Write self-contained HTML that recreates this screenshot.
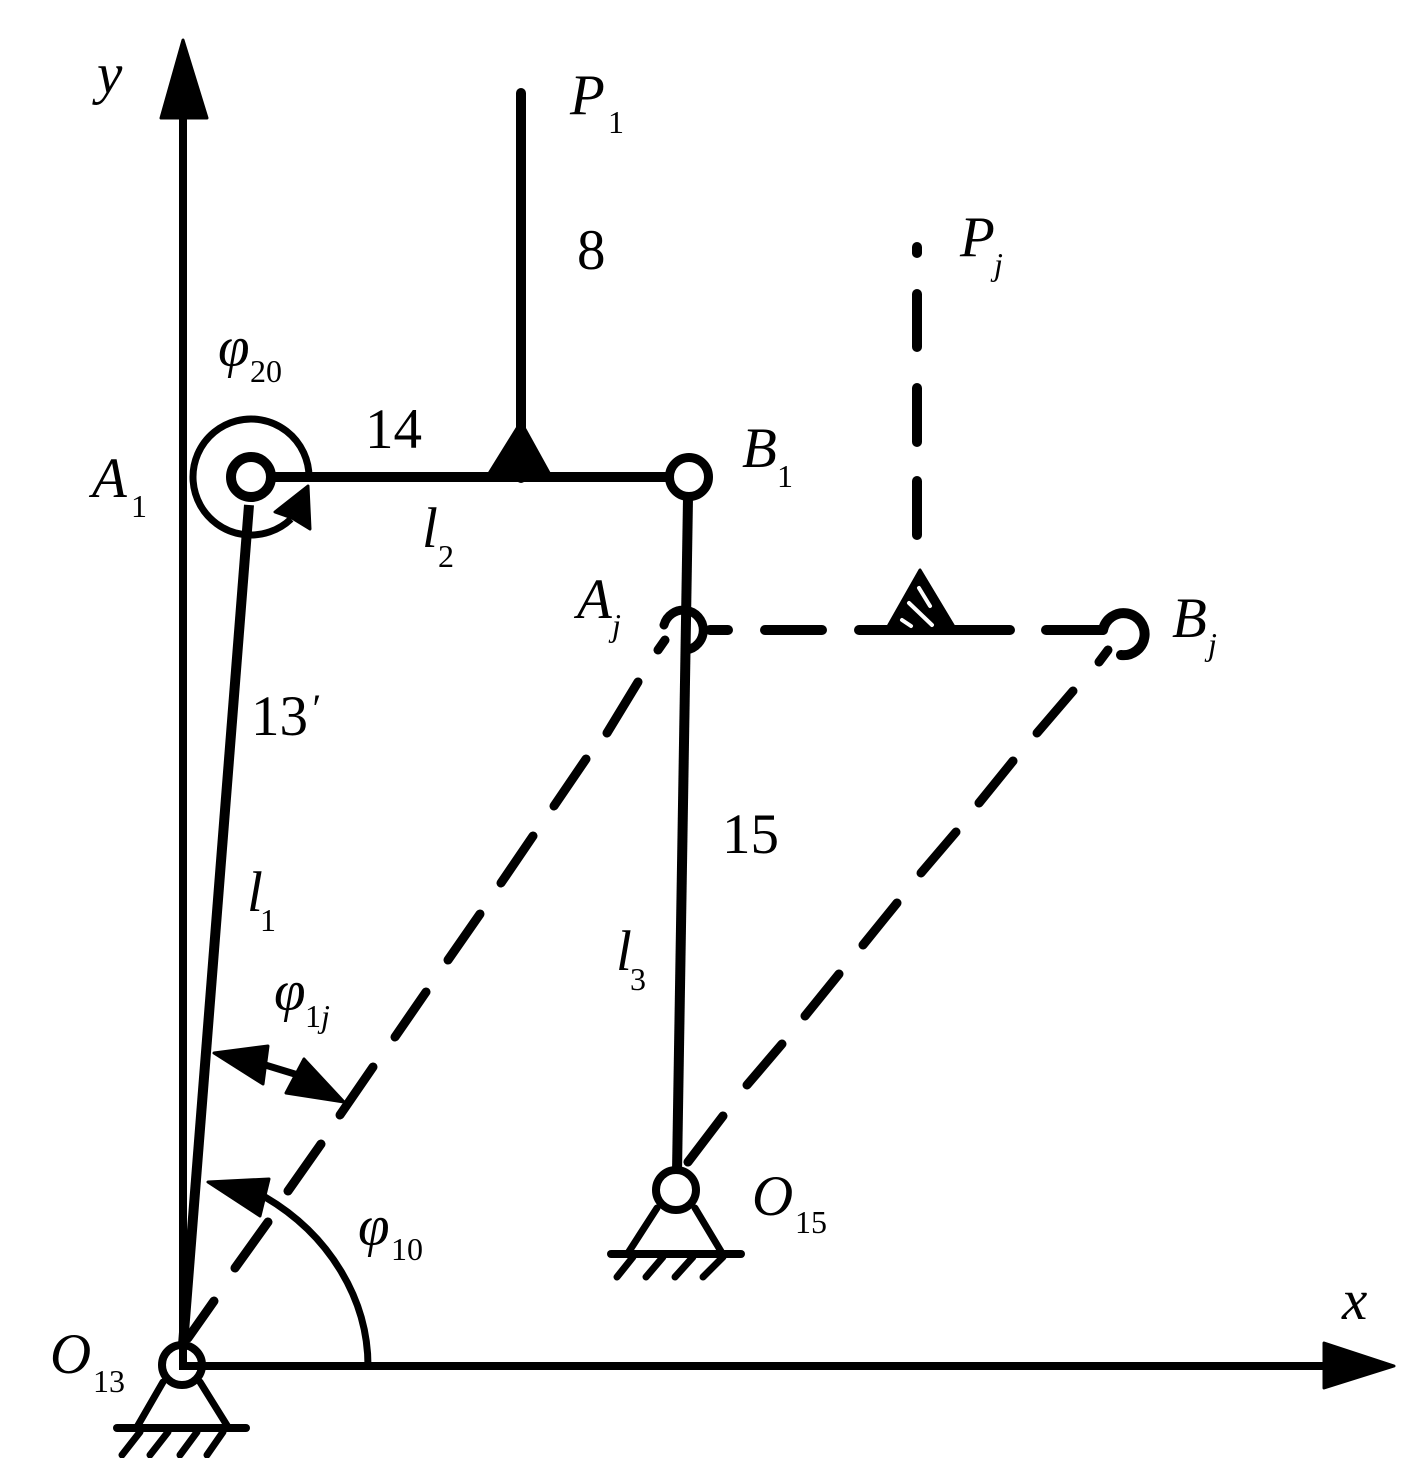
<!DOCTYPE html>
<html><head><meta charset="utf-8"><style>
html,body{margin:0;padding:0;background:#fff}
svg{display:block}
text{font-family:"Liberation Serif",serif;font-size:57px;fill:#000}
.i{font-style:italic}
.s{font-size:32px}
</style></head><body>
<svg width="1417" height="1458" viewBox="0 0 1417 1458" xmlns="http://www.w3.org/2000/svg">
<rect width="1417" height="1458" fill="#fff"/>
<g fill="none" stroke="#000" stroke-linecap="round">
<!-- axes -->
<path d="M183 1366V110" stroke-width="8" stroke-linecap="butt"/>
<path d="M183 1366H1330" stroke-width="8" stroke-linecap="butt"/>
<!-- link 8 and 14 -->
<path d="M521 93V478" stroke-width="10"/>
<path d="M270 477H670" stroke-width="10" stroke-linecap="butt"/>
<!-- l1 and l3 -->
<path d="M249 505L183 1345" stroke-width="10" stroke-linecap="butt"/>
<path d="M688 498L677 1172" stroke-width="10" stroke-linecap="butt"/>
<!-- angle arcs -->
<path d="M309 477A58 58 0 1 0 291 519" stroke-width="7" stroke-linecap="butt"/>
<path d="M368 1366C368 1300 330 1235 265 1197" stroke-width="7" stroke-linecap="butt"/>
<path d="M262 1064L298 1075" stroke-width="7"/>
<!-- dashed O13-Aj -->
<g stroke-width="9">
<path d="M188 1338L214 1301"/><path d="M235 1268L268 1222"/><path d="M288 1191L321 1144"/><path d="M340 1115L373 1067"/>
<path d="M395 1037L426 992"/><path d="M448 960L480 914"/><path d="M501 883L533 836"/><path d="M554 806L586 759"/><path d="M607 733L638 682"/><path d="M658 650L665 640"/>
</g>
<!-- dashed O15-Bj -->
<g stroke-width="9">
<path d="M688 1162L723 1116"/><path d="M747 1085L782 1044"/><path d="M805 1016L839 974"/><path d="M863 945L897 903"/><path d="M921 873L956 832"/><path d="M979 803L1013 761"/><path d="M1037 733L1073 691"/><path d="M1099 662L1108 650"/>
</g>
<!-- dashed horizontal -->
<g stroke-width="10">
<path d="M710 630H728"/><path d="M765 630H822"/><path d="M859 630H1010"/><path d="M1046 630H1103"/>
</g>
<!-- dashed Pj -->
<g stroke-width="10">
<path d="M917 247V253"/><path d="M917 294V347"/><path d="M917 388V442"/><path d="M917 481V535"/>
</g>
<!-- partial hinges -->
<path d="M664 625A20 20 0 1 1 686 650" stroke-width="9"/>
<path d="M1103 630A21 21 0 1 1 1121 655" stroke-width="10"/>
<!-- ground O13 -->
<path d="M163 1382L137 1427M200 1382L228 1427" stroke-width="7"/>
<path d="M117 1428H246" stroke-width="8"/>
<path d="M140 1432L122 1455M168 1432L150 1455M197 1432L180 1455M223 1432L207 1455" stroke-width="7"/>
<!-- ground O15 -->
<path d="M657 1208L628 1253M695 1208L722 1253" stroke-width="7"/>
<path d="M611 1254H741" stroke-width="8"/>
<path d="M633 1257L617 1277M663 1257L646 1277M693 1257L675 1277M723 1257L703 1277" stroke-width="7"/>
</g>
<!-- filled arrowheads and triangles -->
<g fill="#000" stroke="#000" stroke-width="3" stroke-linejoin="round">
<path d="M183 40L161 118H207Z"/>
<path d="M1394 1366L1324 1343V1388Z"/>
<path d="M308 486L275 512L292 518L310 529Z"/>
<path d="M521 420L485 478H553Z" stroke-width="1"/>
<path d="M214 1053L268 1046L263 1084Z"/>
<path d="M344 1102L304 1059L286 1093Z"/>
<path d="M208 1182L269 1179L260 1216Z"/>
<path d="M920 570L886 630H956Z"/>
</g>
<!-- hatch slits in triangle -->
<g stroke="#fff" stroke-width="4" fill="none" stroke-linecap="round">
<path d="M919 588L930 606M909 603L932 625M902 620L911 626"/>
</g>
<!-- hinges -->
<g fill="#fff" stroke="#000">
<circle cx="251" cy="477" r="20" stroke-width="10"/>
<circle cx="689" cy="477" r="19.5" stroke-width="9"/>
<circle cx="676" cy="1190" r="20" stroke-width="8"/>
<circle cx="182" cy="1365" r="20" stroke-width="8"/>
</g>
<path d="M183 1340V1366H204" fill="none" stroke="#000" stroke-width="8"/>
<!-- labels -->
<text class="i" x="97" y="93">y</text>
<text class="i" x="1342" y="1319">x</text>
<text class="i" x="570" y="114">P</text><text class="s" x="608" y="133">1</text>
<text x="577" y="269">8</text>
<text class="i" x="960" y="256">P</text><text class="i s" x="994" y="275">j</text>
<text class="i" x="218" y="366">φ</text><text class="s" x="250" y="382">20</text>
<text x="365" y="448">14</text>
<text class="i" x="92" y="497">A</text><text class="s" x="131" y="517">1</text>
<text class="i" x="422" y="547">l</text><text class="s" x="438" y="567">2</text>
<text class="i" x="742" y="467">B</text><text class="s" x="777" y="487">1</text>
<text class="i" x="577" y="618">A</text><text class="i s" x="612" y="636">j</text>
<text class="i" x="1172" y="637">B</text><text class="i s" x="1208" y="655">j</text>
<text x="251" y="735">13</text><text class="i" style="font-size:40px" x="310" y="722">′</text>
<text class="i" x="247" y="911">l</text><text class="s" x="260" y="931">1</text>
<text x="722" y="853">15</text>
<text class="i" x="616" y="970">l</text><text class="s" x="630" y="990">3</text>
<text class="i" x="274" y="1010">φ</text><text class="s" x="305" y="1027">1</text><text class="i s" x="321" y="1027">j</text>
<text class="i" x="358" y="1245">φ</text><text class="s" x="391" y="1260">10</text>
<text class="i" x="50" y="1373">O</text><text class="s" x="93" y="1392">13</text>
<text class="i" x="752" y="1215">O</text><text class="s" x="795" y="1233">15</text>
</svg>
</body></html>
